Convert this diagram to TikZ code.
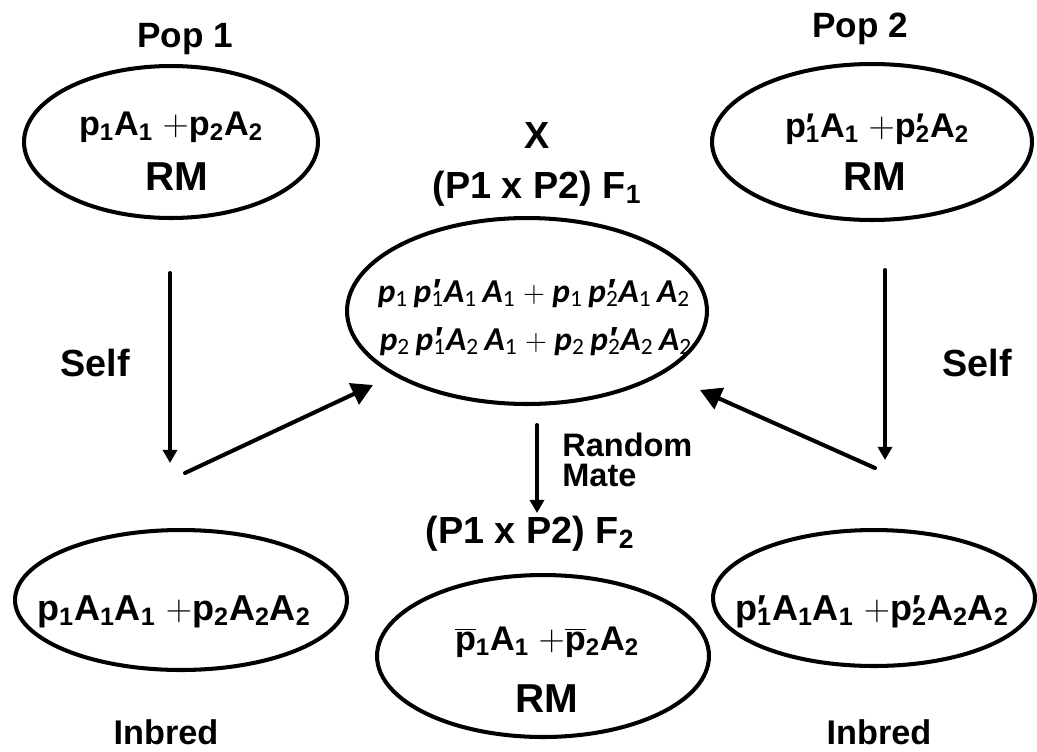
\documentclass[tikz,border=0pt]{standalone}
\usepackage{fontspec}
\setmainfont{Liberation Sans}
\newfontfamily\calfont{Carlito}
\newfontfamily\prfont{Liberation Sans}
\usetikzlibrary{arrows.meta, positioning, shapes.geometric}

% subscripts and primes
\newcommand{\lo}[1]{\textsubscript{#1}}
\newcommand{\pr}[1]{\rlap{′}\textsubscript{#1}}
\newcommand{\glo}[1]{\textsubscript{\mdseries\upshape #1}}
\newcommand{\gpr}[1]{\rlap{\prfont\bfseries\itshape ′}\textsubscript{\mdseries\upshape #1}}
\newcommand{\pbar}{$\overline{\mbox{p}}$}

\begin{document}
\begin{tikzpicture}[x=0.02cm, y=-0.02cm, line cap=round, line join=round,
  every node/.style={inner sep=0pt},
  pop/.style={ellipse, draw, line width=2.3pt},
  lbl/.style={font=\fontsize{21.5}{25}\selectfont\bfseries, anchor=base},
  eq/.style={font=\fontsize{19.5}{23}\selectfont\bfseries, anchor=base},
  eqbig/.style={font=\fontsize{20.5}{24}\selectfont\bfseries, anchor=base},
  rm/.style={font=\fontsize{23}{27}\selectfont\bfseries, anchor=base},
  geno/.style={font=\calfont\fontsize{19}{23}\selectfont\bfseries\itshape, anchor=base},
  small arrow/.style={line width=2.3pt, -{Triangle[length=7.5pt, width=8pt]}},
  big arrow/.style={line width=2.3pt, -{Triangle[length=12pt, width=13pt]}}]
\useasboundingbox (0,0) rectangle (1037,751);

% Populations
\node (pop1) [pop, minimum width=5.88cm, minimum height=3.04cm] at (171,142) {};
\node (pop2) [pop, minimum width=6.4cm, minimum height=3.12cm] at (872,142) {};
\node (f1) [pop, minimum width=7.2cm, minimum height=3.72cm] at (527,311) {};
\node (inl) [pop, minimum width=6.64cm, minimum height=2.8cm] at (181,600) {};
\node (inr) [pop, minimum width=6.44cm, minimum height=2.72cm] at (874,598) {};
\node (f2) [pop, minimum width=6.64cm, minimum height=3.24cm] at (543,656) {};

% Ellipse contents
\node (pop1a) [eq] at (171,135) {p\lo{1}A\lo{1} $+$p\lo{2}A\lo{2}};
\node (pop1b) [rm] at (177,190) {RM};
\node (pop2a) [eq] at (877,137) {p\pr{1}A\lo{1} $+$p\pr{2}A\lo{2}};
\node (pop2b) [rm] at (875,190) {RM};
\node (f1a) [geno] at (534,302) {p\glo{1}\,p\gpr{1}A\glo{1}\,A\glo{1}\ $+$\ p\glo{1}\,p\gpr{2}A\glo{1}\,A\glo{2}};
\node (f1b) [geno] at (536,350) {p\glo{2}\,p\gpr{1}A\glo{2}\,A\glo{1}\ $+$\ p\glo{2}\,p\gpr{2}A\glo{2}\,A\glo{2}};
\node (inla) [eqbig] at (174,620) {p\lo{1}A\lo{1}A\lo{1} $+$p\lo{2}A\lo{2}A\lo{2}};
\node (inra) [eqbig] at (872,620) {p\pr{1}A\lo{1}A\lo{1} $+$p\pr{2}A\lo{2}A\lo{2}};
\node (f2a) [eq] at (547,650) {\pbar\lo{1}A\lo{1} $+$\pbar\lo{2}A\lo{2}};
\node (f2b) [rm] at (547,712) {RM};

% Labels
\node (pop1t) [lbl, font=\fontsize{20}{24}\selectfont\bfseries] at (185,47) {Pop 1};
\node (pop2t) [lbl, font=\fontsize{20}{24}\selectfont\bfseries] at (860,37) {Pop 2};
\node (cross) [lbl] at (537,148) {X};
\node (f1t) [lbl] at (537,198) {(P1 x P2) F\lo{1}};
\node (f2t) [lbl] at (530,543) {(P1 x P2) F\lo{2}};
\node (selfl) [lbl] at (95,376) {Self};
\node (selfr) [lbl] at (977,376) {Self};
\node (rand) [font=\fontsize{18.5}{22}\selectfont\bfseries, anchor=base west] at (562,456) {Random};
\node (mate) [font=\fontsize{18.5}{22}\selectfont\bfseries, anchor=base west] at (562,486) {Mate};
\node (inbl) [font=\fontsize{19.5}{23}\selectfont\bfseries, anchor=base] at (166,744) {Inbred};
\node (inbr) [font=\fontsize{19.5}{23}\selectfont\bfseries, anchor=base] at (879,744) {Inbred};

% Arrow ends
\coordinate (sl1) at (170,273);
\coordinate (sl2) at (170,463);
\coordinate (sr1) at (885,270);
\coordinate (sr2) at (885,460);
\coordinate (dl1) at (185,473);
\coordinate (dl2) at (373,385);
\coordinate (dr1) at (875,468);
\coordinate (dr2) at (700,390);
\coordinate (rm1) at (537,425);
\coordinate (rm2) at (537,513);

% Arrows
\draw [small arrow] (sl1) -- (sl2);
\draw [small arrow] (sr1) -- (sr2);
\draw [small arrow] (rm1) -- (rm2);
\draw [big arrow] (dl1) -- (dl2);
\draw [big arrow] (dr1) -- (dr2);
\end{tikzpicture}
\end{document}
